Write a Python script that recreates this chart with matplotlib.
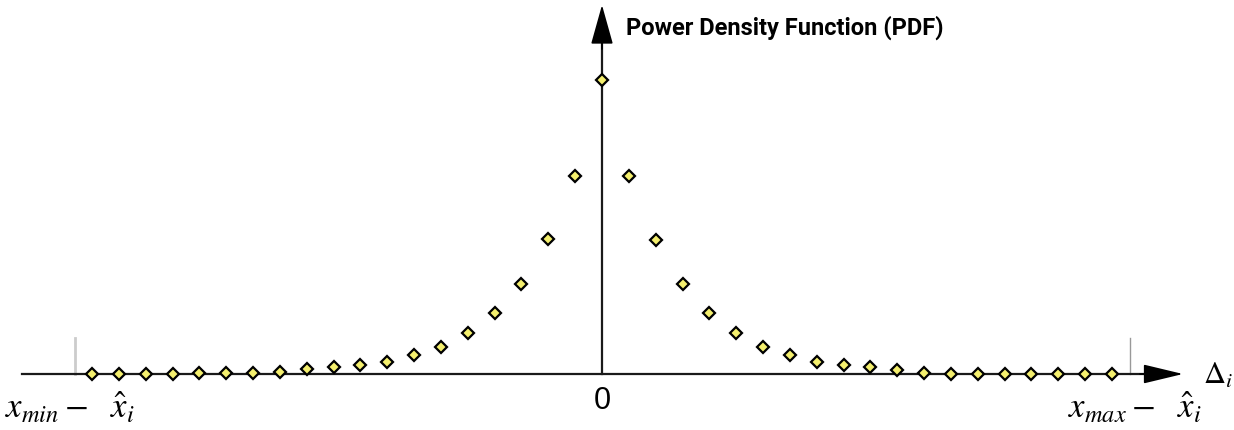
import matplotlib
matplotlib.use("Agg")
import matplotlib.pyplot as plt

# Data: bin index (relative to 0) and PDF height (arbitrary units)
bins = list(range(-19, 20))
pdf_left = [0, 0, 0, 0, 1, 1, 1.5, 2, 5, 7, 9, 12, 19, 27, 41, 61, 90, 135, 198]
pdf_peak = [294]
pdf_right = [198, 134, 90, 61, 41, 27, 19, 12, 9, 7, 4, 1.5, 0.5, 0, 0, 0, 0, 0, 0]
pdf = pdf_left + pdf_peak + pdf_right

title_text = "Power Density Function (PDF)"
xmin_label = r"$x_{min} -\ \ \hat{x}_i$"
xmax_label = r"$x_{max} -\ \ \hat{x}_i$"
zero_label = "0"
delta_label = r"$\Delta_i$"

plt.rcParams['mathtext.fontset'] = 'stix'

fig = plt.figure(figsize=(12.34, 4.30), dpi=100)
ax = fig.add_axes([0, 0, 1, 1])
ax.set_axis_off()
step = 26.84
x0 = 602 / step


def px(p):
    return p / step - x0


ax.set_xlim(px(0), px(1234))
ax.set_ylim(-56, 374)

# x axis with arrow
ax.plot([px(22), px(1150)], [0, 0], color='#1a1a1a', lw=1.6, zorder=1)
ax.annotate("", xy=(px(1183), 0), xytext=(px(1140), 0),
            arrowprops=dict(arrowstyle='-|>,head_length=2.5,head_width=0.6', color='black', lw=1.2,
                            shrinkA=0, shrinkB=0), zorder=3)
# y axis with arrow
ax.plot([0, 0], [0, 336], color='#1a1a1a', lw=1.6, zorder=1)
ax.annotate("", xy=(0, 369), xytext=(0, 325),
            arrowprops=dict(arrowstyle='-|>,head_length=2.5,head_width=0.7', color='black', lw=1.2,
                            shrinkA=0, shrinkB=0), zorder=3)

# range marker lines
ax.plot([px(75), px(75)], [0, 36], color='#cccccc', lw=2, zorder=0)
ax.plot([px(1130), px(1130)], [0, 36], color='#999999', lw=1, zorder=0)

# data points
ax.plot(bins, pdf, linestyle='none', marker='D', markersize=6.4,
        markerfacecolor='#f4ef6e', markeredgecolor='black', markeredgewidth=1.6, zorder=4)

# labels
ax.text(px(626), 346, title_text, fontsize=17, fontweight='bold',
        family=['Roboto', 'DejaVu Sans'], va='center', ha='left')
ax.text(px(5), -44, xmin_label, fontsize=25, ha='left', va='baseline')
ax.text(px(1068), -44, xmax_label, fontsize=25, ha='left', va='baseline')
ax.text(0, -27, zero_label, fontsize=22, ha='center', va='center', family='Liberation Sans')
ax.text(px(1203), -1, delta_label, fontsize=22, ha='left', va='center')

fig.savefig("out.png", dpi=100)
